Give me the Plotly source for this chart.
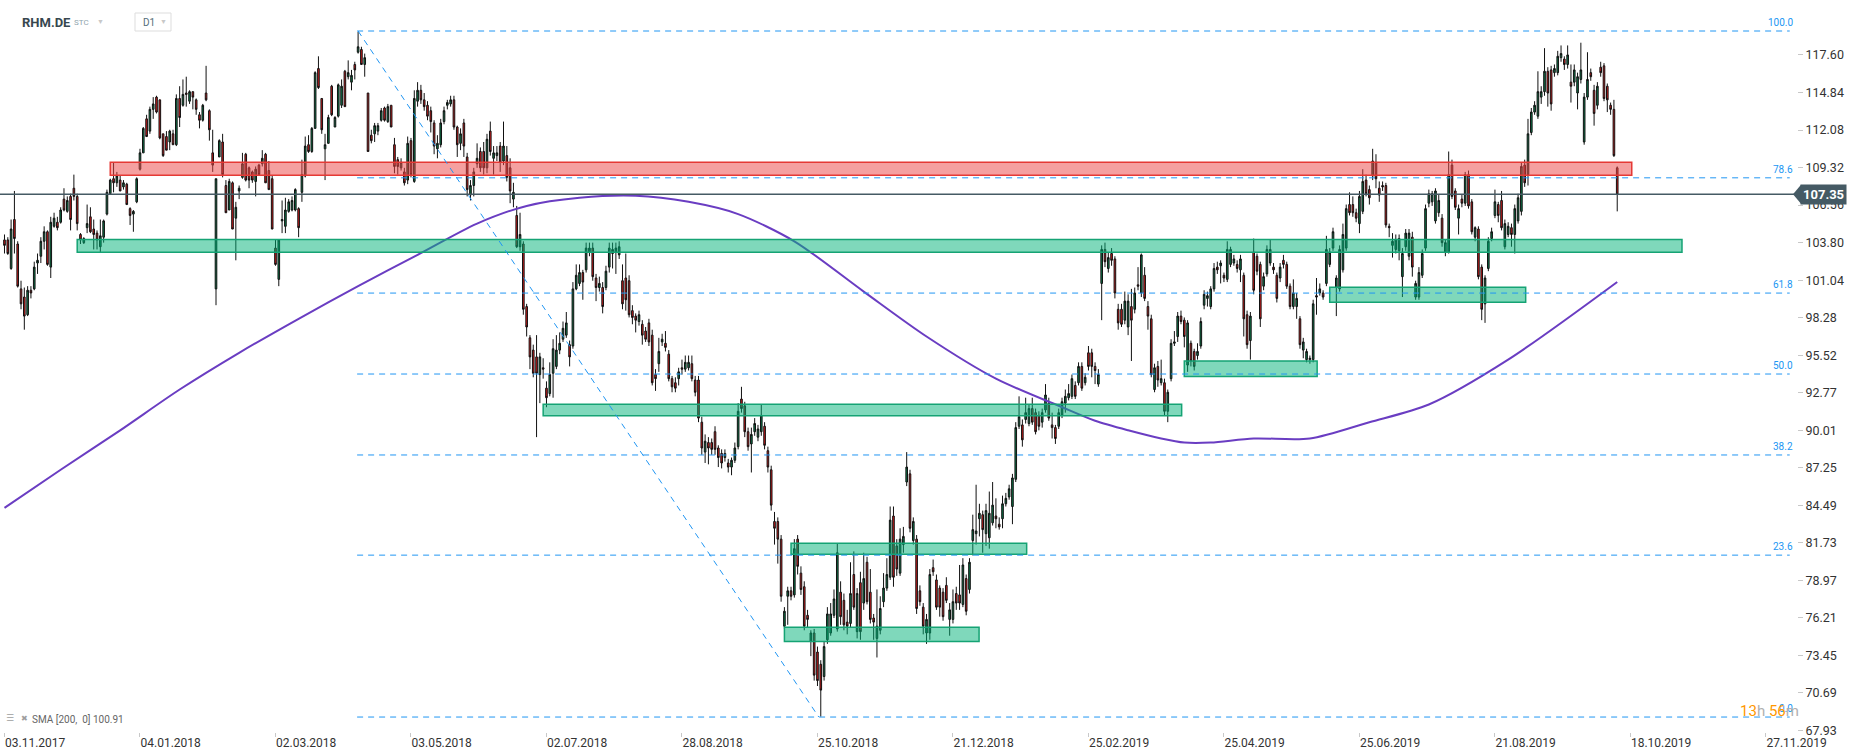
import plotly.graph_objects as go

# ---------------- data ----------------
open_ = [
    104.0, 104.0, 101.9, 105.5, 103.7, 100.4, 99.8, 98.5, 100.3, 100.4,
    102.3, 102.8, 103.9, 104.6, 102.0, 105.0, 105.3, 105.3, 107.0, 106.1,
    107.2, 107.8, 107.2, 104.4, 103.8, 104.9, 105.7, 104.8, 104.5, 103.5,
    104.2, 105.9, 107.4, 108.5, 108.2, 108.4, 107.9, 108.1, 106.3, 105.9,
    106.8, 109.2, 110.4, 112.9, 112.0, 113.6, 114.5, 114.3, 111.8, 111.6,
    111.2, 111.8, 111.0, 114.4, 113.9, 114.8, 114.2, 114.9, 114.3, 113.2,
    112.8, 114.8, 113.5, 110.4, 100.4, 110.1, 111.2, 108.0, 106.2, 108.2,
    105.6, 107.6, 108.6, 110.3, 109.3, 109.0, 108.3, 109.5, 109.6, 110.3,
    109.1, 108.5, 103.4, 101.1, 105.4, 105.0, 106.1, 106.2, 106.2, 106.3,
    107.5, 108.7, 111.0, 110.5, 112.2, 116.6, 114.4, 110.7, 111.1, 115.3,
    112.3, 113.1, 113.9, 116.4, 116.0, 115.6, 116.9, 117.8, 118.0, 116.9,
    114.8, 111.7, 111.8, 112.0, 112.8, 113.7, 112.7, 113.9, 111.0, 109.9,
    109.3, 109.0, 108.4, 111.3, 108.3, 114.2, 115.0, 114.3, 113.9, 113.5,
    112.6, 110.7, 111.0, 112.7, 113.9, 114.0, 114.3, 112.3, 111.1, 112.6,
    110.1, 107.3, 108.0, 109.6, 110.5, 110.5, 109.3, 112.0, 110.0, 110.2,
    110.9, 109.8, 110.2, 109.3, 107.0, 105.8, 103.5, 103.7, 99.1, 96.8,
    95.9, 95.4, 94.1, 94.6, 93.1, 92.7, 94.2, 94.7, 95.9, 96.7,
    97.0, 96.3, 96.2, 100.4, 100.8, 101.6, 101.8, 103.1, 103.4, 101.2,
    100.5, 100.5, 100.5, 102.0, 103.0, 103.1, 102.9, 101.0, 101.2, 101.0,
    98.8, 98.4, 98.0, 97.8, 97.3, 97.9, 97.0, 94.1, 94.9, 96.5,
    96.4, 95.6, 93.8, 93.5, 93.8, 94.6, 94.5, 94.6, 94.9, 93.7,
    93.7, 90.6, 88.4, 89.1, 89.1, 89.9, 88.7, 88.3, 88.0, 87.6,
    87.3, 87.8, 88.8, 92.3, 91.8, 89.9, 89.0, 89.9, 89.5, 89.9,
    90.3, 88.5, 87.1, 83.3, 83.3, 82.0, 75.6, 77.8, 78.2, 77.9,
    82.0, 79.5, 78.5, 76.4, 74.5, 75.1, 73.7, 72.8, 71.9, 74.6,
    75.1, 76.4, 75.4, 78.1, 77.5, 75.9, 75.8, 79.4, 75.2, 78.8,
    77.3, 80.3, 78.1, 76.2, 74.7, 75.3, 77.4, 78.4, 79.2, 83.7,
    81.5, 79.5, 81.6, 86.2, 86.8, 81.9, 82.0, 78.2, 77.0, 75.1,
    75.1, 79.9, 79.0, 78.4, 78.1, 78.6, 76.1, 76.1, 78.0, 77.9,
    77.2, 79.1, 78.3, 81.9, 82.4, 83.5, 83.8, 82.4, 82.1, 83.2,
    83.7, 83.1, 83.5, 84.6, 85.1, 84.4, 86.4, 90.3, 90.4, 90.8,
    90.5, 91.6, 91.3, 91.1, 90.6, 91.5, 92.0, 90.4, 90.2, 90.3,
    91.1, 92.0, 92.4, 92.5, 93.3, 93.5, 94.7, 93.5, 95.7, 95.7,
    94.7, 93.4, 100.8, 103.3, 101.9, 103.0, 102.6, 98.9, 98.9, 98.1,
    97.6, 99.1, 98.9, 100.7, 100.1, 101.4, 99.1, 98.2, 93.0, 94.7,
    93.5, 93.5, 91.4, 93.8, 96.4, 96.9, 98.4, 98.1, 94.8, 96.4,
    95.8, 95.5, 96.2, 99.2, 99.7, 99.1, 100.4, 102.0, 102.1, 101.4,
    101.1, 102.2, 102.3, 102.2, 101.8, 101.4, 98.5, 96.6, 103.1, 102.8,
    102.2, 100.6, 101.5, 102.3, 102.0, 101.4, 101.2, 102.5, 102.2, 100.6,
    99.1, 99.1, 98.2, 95.9, 95.2, 95.2, 95.2, 99.9, 100.1, 100.1,
    100.8, 102.2, 103.4, 100.5, 100.4, 101.8, 103.4, 106.6, 106.6, 106.0,
    105.2, 106.1, 108.4, 107.7, 108.7, 109.7, 107.8, 108.0, 108.0, 105.0,
    103.6, 103.3, 103.2, 101.3, 103.5, 102.8, 104.2, 99.8, 99.8, 101.4,
    103.4, 106.7, 106.8, 105.4, 106.0, 105.6, 103.1, 103.1, 109.5, 107.6,
    105.6, 107.0, 106.7, 108.8, 106.8, 104.2, 104.8, 102.0, 99.3, 101.9,
    104.1, 105.8, 106.6, 106.9, 103.5, 104.4, 104.9, 104.4, 105.4, 106.1,
    109.5, 108.8, 111.9, 113.4, 113.1, 114.5, 114.9, 116.4, 116.5, 116.3,
    116.3, 117.4, 117.3, 116.9, 115.6, 115.6, 114.8, 115.8, 111.2, 114.5,
    116.3, 115.0, 113.9, 116.7, 116.8, 115.3, 113.9, 113.6, 109.3,
]
high = [
    104.4, 104.2, 105.5, 107.6, 103.9, 101.0, 100.5, 100.6, 100.6, 102.4,
    103.0, 104.2, 105.0, 104.7, 105.7, 106.0, 105.7, 106.4, 107.8, 107.2,
    107.4, 108.8, 107.4, 104.5, 104.2, 106.6, 106.4, 105.5, 104.7, 105.5,
    105.5, 107.7, 108.5, 109.7, 109.0, 108.7, 108.4, 108.2, 106.4, 106.2,
    108.6, 110.7, 112.3, 113.2, 113.8, 114.5, 114.6, 114.3, 111.8, 112.0,
    112.1, 112.1, 114.7, 115.3, 115.8, 116.0, 115.0, 114.9, 114.4, 113.4,
    114.0, 116.8, 113.6, 112.1, 108.5, 111.4, 111.8, 108.4, 108.5, 108.3,
    106.8, 108.0, 110.4, 110.4, 109.4, 109.1, 109.4, 109.6, 110.6, 110.4,
    109.8, 108.7, 104.0, 104.0, 106.9, 107.1, 107.0, 107.2, 107.8, 106.4,
    109.9, 111.6, 111.7, 112.3, 116.4, 117.5, 114.4, 111.8, 113.2, 115.4,
    113.1, 115.5, 115.8, 116.5, 117.2, 116.5, 117.1, 119.3, 118.2, 117.7,
    114.8, 112.1, 112.6, 112.6, 113.7, 113.8, 114.0, 113.9, 111.5, 110.1,
    110.0, 109.3, 111.6, 111.5, 115.0, 115.6, 115.4, 114.8, 114.2, 113.8,
    112.8, 111.7, 112.9, 113.8, 114.3, 114.6, 114.6, 112.4, 112.2, 112.9,
    110.4, 108.4, 109.3, 111.1, 110.8, 111.2, 111.8, 112.7, 110.9, 110.9,
    111.2, 112.7, 110.9, 110.0, 108.2, 106.5, 106.0, 103.9, 99.3, 97.0,
    96.3, 97.0, 95.7, 95.3, 93.6, 95.0, 96.7, 97.0, 97.2, 98.0,
    98.7, 96.6, 100.9, 102.2, 102.2, 101.8, 103.8, 103.8, 103.8, 101.5,
    101.3, 100.9, 102.1, 103.8, 103.8, 103.8, 103.9, 102.2, 103.0, 101.4,
    99.2, 98.6, 98.8, 98.1, 97.6, 98.2, 97.4, 94.5, 96.8, 97.1,
    97.3, 95.9, 94.0, 93.9, 94.6, 95.2, 95.5, 95.5, 95.5, 94.0,
    94.0, 91.0, 89.7, 89.5, 89.4, 90.3, 88.9, 88.6, 88.6, 87.9,
    88.0, 89.1, 92.0, 93.2, 92.1, 90.2, 90.2, 90.9, 90.4, 91.9,
    90.6, 88.8, 87.4, 84.0, 83.6, 82.3, 77.0, 78.5, 78.5, 82.0,
    82.3, 80.0, 78.9, 76.8, 75.3, 75.4, 74.1, 73.1, 74.5, 77.0,
    77.3, 78.3, 81.7, 78.9, 78.0, 76.8, 80.3, 81.1, 78.4, 79.6,
    81.0, 80.7, 79.8, 76.5, 78.3, 77.8, 79.5, 80.6, 84.4, 84.4,
    82.0, 82.8, 82.9, 88.4, 87.1, 83.6, 82.3, 78.6, 77.3, 76.5,
    79.8, 80.5, 79.4, 78.6, 78.4, 79.2, 77.3, 78.3, 78.5, 80.1,
    80.6, 79.4, 80.6, 83.8, 86.0, 84.6, 84.1, 84.6, 85.5, 86.2,
    85.0, 83.6, 85.2, 85.4, 86.0, 86.8, 90.6, 92.5, 90.8, 92.4,
    91.9, 92.4, 91.6, 91.4, 91.6, 93.4, 92.4, 91.3, 90.4, 91.6,
    92.4, 93.0, 93.4, 94.1, 93.6, 95.0, 95.0, 94.2, 96.2, 96.0,
    95.0, 94.5, 103.6, 103.8, 103.1, 103.4, 102.8, 99.3, 99.3, 100.2,
    100.0, 100.4, 100.5, 102.0, 103.0, 102.0, 99.5, 98.5, 94.9, 95.1,
    95.2, 93.8, 93.0, 96.7, 97.3, 98.7, 98.8, 98.3, 98.1, 96.6,
    96.0, 96.4, 98.3, 100.3, 100.2, 100.6, 102.3, 102.4, 102.5, 101.6,
    103.9, 103.5, 102.9, 102.5, 102.9, 101.6, 98.8, 98.7, 104.1, 103.0,
    102.4, 101.6, 103.6, 104.0, 102.3, 101.6, 102.3, 102.9, 102.4, 100.8,
    101.1, 100.1, 98.4, 96.8, 96.0, 95.5, 99.6, 101.2, 100.8, 100.3,
    104.3, 103.4, 104.9, 101.4, 103.6, 105.2, 106.6, 107.5, 107.2, 106.3,
    107.6, 109.2, 108.8, 108.0, 110.7, 110.3, 108.3, 108.3, 108.2, 105.2,
    104.5, 104.4, 104.4, 103.4, 104.8, 104.8, 104.6, 101.0, 102.0, 103.3,
    106.6, 107.7, 107.6, 107.8, 107.3, 105.9, 104.0, 110.5, 109.9, 107.8,
    106.6, 107.3, 109.0, 109.1, 107.0, 105.0, 105.0, 102.2, 101.4, 104.2,
    104.9, 107.7, 106.8, 107.6, 105.5, 105.3, 105.2, 106.6, 107.4, 109.7,
    109.9, 112.9, 113.7, 114.2, 116.4, 115.3, 118.1, 116.7, 116.8, 116.9,
    117.9, 118.3, 117.5, 118.3, 116.9, 116.9, 116.3, 118.5, 114.8, 117.8,
    116.6, 115.4, 115.6, 117.1, 117.0, 115.5, 114.1, 114.3, 109.4,
]
low = [
    103.0, 102.9, 101.8, 103.0, 100.5, 98.9, 97.4, 98.4, 99.7, 100.3,
    101.5, 102.3, 103.3, 102.1, 101.2, 104.9, 104.7, 105.2, 106.1, 106.0,
    104.7, 106.9, 104.7, 103.7, 103.7, 104.5, 104.5, 103.3, 103.3, 103.1,
    103.8, 105.8, 107.4, 107.5, 107.9, 107.6, 107.7, 106.6, 105.1, 104.6,
    106.7, 109.1, 110.4, 111.6, 111.8, 112.9, 113.3, 111.4, 110.1, 110.6,
    110.6, 111.0, 110.9, 112.3, 113.8, 113.8, 114.0, 113.6, 113.2, 112.2,
    112.7, 114.2, 111.3, 109.0, 99.2, 110.1, 108.6, 106.0, 106.2, 104.8,
    102.5, 107.0, 108.5, 108.3, 107.8, 108.2, 107.2, 108.7, 109.4, 108.2,
    107.7, 104.8, 102.1, 100.6, 104.5, 104.5, 106.0, 106.1, 106.1, 104.2,
    106.8, 108.6, 110.4, 110.4, 112.2, 115.1, 111.8, 108.4, 111.1, 113.1,
    112.3, 113.0, 113.7, 113.8, 115.8, 115.0, 115.8, 117.7, 116.9, 116.0,
    110.5, 111.1, 111.2, 111.7, 112.7, 112.7, 112.6, 112.3, 108.9, 108.8,
    109.1, 108.0, 108.1, 108.6, 108.2, 113.8, 114.0, 113.5, 112.8, 111.9,
    110.3, 110.0, 110.8, 112.5, 113.6, 113.8, 112.1, 110.1, 110.6, 110.1,
    107.2, 106.9, 107.2, 109.3, 109.0, 108.8, 108.9, 110.2, 108.8, 109.8,
    109.0, 109.5, 108.3, 106.7, 106.4, 103.4, 103.2, 98.5, 96.9, 94.5,
    93.9, 89.5, 92.0, 93.8, 91.7, 92.5, 92.4, 94.5, 95.6, 96.5,
    96.8, 94.7, 96.0, 100.3, 100.6, 99.6, 101.6, 102.8, 101.0, 99.5,
    100.2, 98.6, 100.3, 101.6, 101.9, 101.5, 102.6, 98.9, 98.8, 98.3,
    97.8, 97.2, 97.7, 96.3, 96.5, 96.2, 93.3, 92.9, 94.3, 96.2,
    95.8, 93.6, 92.8, 92.8, 93.3, 94.1, 94.3, 94.4, 93.6, 92.5,
    90.6, 88.2, 87.6, 87.5, 88.2, 88.2, 87.3, 87.2, 87.7, 86.9,
    86.7, 87.6, 88.6, 91.3, 89.5, 88.5, 86.9, 89.6, 89.2, 89.6,
    88.6, 86.9, 84.1, 81.6, 80.2, 77.4, 75.4, 75.7, 77.5, 77.7,
    79.4, 77.9, 75.3, 75.5, 73.4, 71.6, 71.2, 68.95, 71.6, 74.3,
    74.9, 76.2, 75.2, 75.7, 75.3, 75.0, 75.5, 76.8, 74.7, 74.6,
    76.8, 77.2, 75.8, 74.6, 73.3, 75.0, 77.0, 78.2, 79.0, 78.5,
    79.3, 79.3, 81.0, 85.9, 82.5, 81.6, 76.5, 77.1, 75.0, 74.3,
    74.6, 79.3, 76.8, 76.3, 76.0, 77.3, 74.9, 75.8, 76.8, 76.8,
    77.0, 76.4, 78.0, 80.8, 81.6, 82.2, 81.0, 81.5, 81.3, 83.0,
    82.8, 82.7, 82.8, 84.4, 84.9, 83.1, 86.2, 90.1, 88.8, 90.5,
    90.3, 90.4, 89.7, 90.0, 90.2, 91.3, 90.7, 89.4, 89.0, 90.1,
    90.9, 91.3, 92.2, 92.3, 92.3, 93.3, 92.9, 93.3, 94.4, 93.9,
    93.4, 93.2, 98.1, 102.0, 101.6, 102.1, 99.7, 97.4, 97.6, 97.8,
    97.0, 95.1, 98.6, 100.3, 99.8, 99.5, 97.4, 93.9, 92.8, 93.2,
    93.3, 91.1, 90.6, 93.6, 96.2, 96.5, 97.8, 96.1, 94.3, 94.7,
    94.4, 95.2, 96.0, 98.9, 99.1, 98.9, 100.2, 101.5, 100.8, 100.9,
    100.9, 102.0, 102.1, 101.6, 100.9, 96.9, 96.0, 95.2, 100.0, 101.4,
    97.6, 100.3, 101.3, 102.1, 101.5, 99.4, 100.9, 101.9, 100.4, 98.9,
    98.9, 98.2, 96.0, 95.3, 95.0, 94.9, 95.0, 98.5, 99.9, 99.6,
    100.6, 102.0, 103.2, 98.4, 100.2, 101.6, 103.2, 105.8, 105.7, 105.3,
    104.5, 105.9, 107.2, 106.6, 108.4, 107.8, 106.8, 107.6, 104.9, 104.2,
    102.7, 103.0, 102.5, 99.8, 103.2, 102.5, 101.3, 99.6, 99.6, 101.2,
    103.2, 106.4, 106.5, 105.2, 105.7, 103.5, 102.8, 103.0, 107.0, 106.2,
    104.4, 106.4, 106.5, 106.3, 104.4, 103.9, 101.1, 98.1, 97.9, 101.7,
    103.9, 105.6, 105.3, 104.7, 103.3, 104.2, 103.5, 103.0, 105.2, 105.8,
    107.9, 108.0, 111.7, 113.2, 112.9, 114.0, 114.6, 113.8, 113.5, 116.0,
    116.1, 117.1, 116.5, 116.6, 114.1, 115.3, 113.6, 115.5, 111.0, 114.3,
    115.7, 112.4, 113.6, 116.0, 114.2, 113.4, 113.2, 110.1, 106.1,
]
close = [
    103.6, 103.0, 104.8, 104.1, 100.6, 99.3, 98.4, 100.3, 100.1, 102.0,
    102.5, 103.9, 104.6, 102.2, 105.3, 105.6, 104.9, 106.2, 106.2, 106.9,
    105.5, 107.2, 105.2, 104.0, 104.1, 105.2, 104.6, 104.4, 104.0, 104.3,
    105.4, 107.5, 108.4, 108.2, 108.7, 107.6, 108.2, 106.6, 105.8, 106.1,
    108.5, 110.4, 112.2, 111.6, 113.6, 114.0, 113.4, 111.5, 110.2, 110.6,
    112.0, 111.0, 114.4, 113.0, 114.7, 114.7, 114.9, 114.5, 113.6, 112.8,
    113.9, 114.3, 112.1, 109.5, 108.5, 111.3, 108.8, 106.0, 108.3, 104.8,
    106.4, 107.8, 109.6, 108.4, 108.4, 108.4, 109.2, 108.8, 110.0, 108.2,
    107.7, 104.8, 102.2, 104.0, 105.5, 106.2, 106.8, 106.9, 107.7, 104.9,
    108.8, 110.9, 110.5, 112.2, 116.3, 115.2, 112.1, 111.0, 113.0, 113.2,
    113.0, 115.4, 115.3, 113.8, 116.3, 116.1, 116.5, 118.2, 116.9, 117.4,
    110.5, 111.3, 112.4, 112.4, 113.5, 112.8, 113.8, 112.3, 109.4, 109.4,
    109.7, 108.2, 111.1, 108.8, 114.4, 115.0, 114.3, 113.8, 113.1, 112.7,
    110.9, 111.1, 112.6, 113.5, 114.1, 114.3, 112.3, 111.0, 111.8, 110.9,
    107.7, 108.0, 109.0, 110.0, 109.3, 109.3, 111.4, 110.5, 110.4, 110.4,
    109.7, 110.9, 108.6, 107.6, 107.5, 103.5, 104.4, 98.9, 97.6, 95.4,
    94.2, 94.2, 95.4, 94.5, 92.4, 94.1, 96.0, 95.9, 96.4, 97.5,
    97.9, 95.4, 100.4, 101.4, 101.6, 100.9, 103.4, 103.4, 101.3, 100.5,
    100.8, 99.1, 101.7, 103.4, 103.3, 103.4, 103.5, 99.3, 99.6, 98.5,
    98.3, 98.1, 98.5, 97.0, 96.7, 96.5, 93.5, 93.8, 95.8, 96.7,
    96.1, 93.8, 93.2, 93.1, 94.3, 94.5, 95.0, 95.0, 93.8, 92.8,
    90.9, 88.7, 89.2, 88.7, 88.6, 88.6, 88.0, 87.6, 88.3, 87.3,
    87.8, 88.7, 91.4, 91.6, 89.9, 88.8, 89.7, 90.5, 90.1, 91.1,
    88.9, 87.3, 84.5, 82.8, 82.0, 77.8, 76.7, 78.2, 77.8, 81.3,
    80.0, 78.3, 75.6, 76.1, 75.1, 72.0, 71.6, 70.9, 74.1, 76.5,
    76.5, 77.6, 81.0, 76.3, 75.7, 75.6, 78.0, 77.0, 78.0, 75.2,
    79.1, 77.4, 76.1, 75.9, 75.6, 76.9, 78.4, 79.4, 83.4, 79.2,
    79.8, 82.0, 82.2, 87.3, 82.8, 83.3, 76.9, 77.4, 75.6, 76.1,
    79.4, 79.6, 77.0, 77.0, 76.3, 77.5, 76.8, 77.4, 77.3, 77.3,
    80.1, 76.7, 80.3, 82.7, 82.6, 83.9, 82.7, 84.1, 83.9, 84.5,
    83.5, 82.9, 84.6, 85.0, 85.7, 86.5, 90.2, 91.0, 89.3, 91.3,
    91.6, 90.6, 89.9, 90.3, 91.3, 92.6, 90.9, 90.2, 89.4, 91.3,
    92.1, 92.5, 92.7, 93.8, 92.5, 94.7, 93.1, 93.9, 94.7, 94.7,
    94.4, 94.1, 103.3, 102.4, 102.7, 102.5, 100.1, 97.9, 97.8, 99.5,
    99.5, 98.1, 100.1, 100.6, 102.9, 99.7, 98.4, 94.1, 94.6, 93.7,
    93.8, 91.4, 92.8, 96.4, 96.5, 98.4, 98.0, 96.9, 97.9, 95.1,
    94.7, 95.8, 98.0, 100.0, 99.9, 100.4, 101.9, 101.8, 102.3, 101.2,
    103.3, 103.3, 102.6, 101.9, 102.6, 98.2, 96.3, 98.4, 100.3, 101.7,
    98.2, 101.3, 103.3, 103.3, 101.8, 99.7, 102.0, 102.2, 100.6, 99.1,
    100.1, 99.7, 96.3, 96.5, 95.8, 95.3, 99.3, 99.8, 100.4, 99.8,
    103.3, 103.1, 104.6, 101.2, 103.3, 104.4, 106.3, 106.0, 106.0, 105.6,
    107.2, 108.3, 107.4, 107.1, 109.8, 108.5, 107.3, 107.9, 105.1, 104.9,
    103.9, 104.0, 104.1, 103.0, 104.5, 104.5, 102.0, 100.8, 101.6, 103.0,
    106.3, 107.4, 107.4, 107.6, 106.9, 103.8, 103.8, 108.8, 107.2, 106.4,
    106.3, 106.7, 108.8, 106.5, 104.6, 104.9, 101.3, 98.9, 101.2, 103.9,
    104.6, 106.8, 105.8, 104.9, 105.2, 105.0, 104.4, 106.3, 107.1, 109.4,
    108.2, 111.8, 113.4, 113.9, 114.9, 114.9, 116.4, 114.8, 114.0, 116.6,
    117.5, 117.7, 116.9, 117.6, 115.3, 116.5, 116.0, 116.5, 114.5, 115.8,
    116.0, 113.3, 115.3, 116.3, 114.4, 114.3, 113.6, 110.2, 107.35,
]

# SMA(200) (bar index, value)
sma_idx = [0, 17, 35, 53, 71, 89, 107, 125, 143, 158, 174, 191, 207, 222,
           239, 260, 279, 300, 320, 330, 340, 350, 357, 365, 378, 395, 413,
           431, 455, 488]
sma_val = [84.3, 87.1, 90.0, 93.0, 95.7, 98.2, 100.6, 102.9, 105.2, 106.5,
           107.1, 107.25, 106.8, 105.9, 103.9, 100.2, 96.9, 93.8, 91.7, 90.7,
           90.0, 89.4, 89.1, 89.1, 89.4, 89.4, 90.6, 91.9, 95.2, 100.91]

date_tick_idx = [0, 41, 82, 123, 164, 205, 246, 287, 328, 369, 410, 451, 492, 533]
date_tick_text = ["03.11.2017", "04.01.2018", "02.03.2018", "03.05.2018",
                  "02.07.2018", "28.08.2018", "25.10.2018", "21.12.2018",
                  "25.02.2019", "25.04.2019", "25.06.2019", "21.08.2019",
                  "18.10.2019", "27.11.2019"]
price_ticks = [117.60, 114.84, 112.08, 109.32, 106.56, 103.80, 101.04, 98.28,
               95.52, 92.77, 90.01, 87.25, 84.49, 81.73, 78.97, 76.21, 73.45,
               70.69, 67.93]

fib_ratios = [100.0, 78.6, 61.8, 50.0, 38.2, 23.6, 0.0]
fib_high, fib_low = 119.36, 68.92
fib_high_idx, fib_low_idx = 107, 247

# horizontal zones: (from bar, to bar, low, high)
zone_x0 = [32.0, 22.0, 163.0, 238.0, 236.0, 357.0, 401.0]
zone_x1 = [492.4, 507.6, 356.2, 309.3, 294.9, 397.2, 460.3]
zone_lo = [108.75, 103.09, 91.08, 80.89, 74.47, 93.95, 99.42]
zone_hi = [109.71, 104.04, 91.92, 81.70, 75.52, 95.10, 100.52]
zone_kind = ["res", "sup", "sup", "sup", "sup", "sup", "sup"]

last_price = 107.35
sma_last = 100.91

# ---------------- layout constants ----------------
W, H = 1866, 756
ML, MR, MT, MB = 0, 69, 0, 24
PW, PH = W - ML - MR, H - MT - MB
XR = [-1.36, 542.4]
YR = [67.82, 121.64]
FONT = "Roboto, 'Open Sans', Arial, sans-serif"
BLUE = "#2196f3"


def px(x):
    return x / PW


def py(y):
    return 1 - y / PH


n = len(close)
xs = list(range(n))
high = [max(h, o, c) for h, o, c in zip(high, open_, close)]
low = [min(l, o, c) for l, o, c in zip(low, open_, close)]

fig = go.Figure()
fig.add_trace(go.Candlestick(
    x=xs, open=open_, high=high, low=low, close=close,
    increasing=dict(line=dict(color="#111111", width=1), fillcolor="#0b7a4a"),
    decreasing=dict(line=dict(color="#111111", width=1), fillcolor="#d81b1b"),
    whiskerwidth=0, showlegend=False, hoverinfo="skip",
))
fig.add_trace(go.Scatter(
    x=sma_idx, y=sma_val, mode="lines",
    line=dict(color="#6a3dc2", width=2, shape="spline", smoothing=0.8),
    showlegend=False, hoverinfo="skip",
))

shapes = []
for x0, x1, lo, hi, k in zip(zone_x0, zone_x1, zone_lo, zone_hi, zone_kind):
    if k == "res":
        fc, lc = "rgba(236,72,72,0.52)", "#e53935"
    else:
        fc, lc = "rgba(0,178,120,0.50)", "#15a374"
    shapes.append(dict(type="rect", xref="x", yref="y", x0=x0, x1=x1, y0=lo, y1=hi,
                       fillcolor=fc, line=dict(color=lc, width=1.5), layer="above"))

fib_end = 540.2
annotations = []
for r in fib_ratios:
    lvl = fib_low + r / 100.0 * (fib_high - fib_low)
    shapes.append(dict(type="line", xref="x", yref="y", x0=fib_high_idx - 0.3, x1=fib_end,
                       y0=lvl, y1=lvl, line=dict(color=BLUE, width=1, dash="6px,5px")))
    annotations.append(dict(xref="x", yref="y", x=541.7, y=lvl, xanchor="right",
                            yanchor="bottom", yshift=1, showarrow=False,
                            text=f"{r:.1f}", font=dict(family=FONT, size=10, color=BLUE)))

shapes.append(dict(type="line", xref="x", yref="y", x0=fib_high_idx, y0=fib_high,
                   x1=fib_low_idx - 0.6, y1=fib_low,
                   line=dict(color=BLUE, width=1, dash="6px,5px")))

shapes.append(dict(type="line", xref="paper", yref="y", x0=0, x1=1, y0=last_price,
                   y1=last_price, line=dict(color="#455a64", width=1.5)))

# price tag pointer
ply = (last_price - YR[0]) / (YR[1] - YR[0])
hh = 9.5 / PH
shapes.append(dict(type="path", xref="paper", yref="paper",
                   path=f"M {px(1793)},{ply} L {px(1801)},{ply + hh} L {px(1801)},{ply - hh} Z",
                   fillcolor="#455a64", line=dict(width=0)))
annotations.append(dict(xref="paper", yref="y", x=px(1800), y=last_price, xanchor="left",
                        yanchor="middle", showarrow=False, text="<b>107.35</b>",
                        bgcolor="#455a64", borderpad=2,
                        font=dict(family=FONT, size=13, color="white")))

# header
annotations += [
    dict(xref="paper", yref="paper", x=px(20), y=py(23), xanchor="left", yanchor="middle",
         showarrow=False, text="<b>RHM.DE</b>", font=dict(family=FONT, size=13, color="#37474f")),
    dict(xref="paper", yref="paper", x=px(72), y=py(23), xanchor="left", yanchor="middle",
         showarrow=False, text="STC", font=dict(family=FONT, size=8, color="#90a4ae")),
    dict(xref="paper", yref="paper", x=px(95), y=py(22), xanchor="left", yanchor="middle",
         showarrow=False, text="▼", font=dict(family=FONT, size=7, color="#c8c8c8")),
    dict(xref="paper", yref="paper", x=px(141), y=py(22.5), xanchor="left", yanchor="middle",
         showarrow=False, text="D1", font=dict(family=FONT, size=10, color="#546e7a")),
    dict(xref="paper", yref="paper", x=px(158), y=py(22), xanchor="left", yanchor="middle",
         showarrow=False, text="▼", font=dict(family=FONT, size=7, color="#c8c8c8")),
]
shapes.append(dict(type="rect", xref="paper", yref="paper", x0=px(135), x1=px(171),
                   y0=py(31), y1=py(13), line=dict(color="#dddddd", width=1)))

# indicator legend
annotations += [
    dict(xref="paper", yref="paper", x=px(4), y=py(718), xanchor="left", yanchor="middle",
         showarrow=False, text="☰", font=dict(family="DejaVu Sans", size=9, color="#9e9e9e")),
    dict(xref="paper", yref="paper", x=px(19), y=py(718), xanchor="left", yanchor="middle",
         showarrow=False, text="✖", font=dict(family="DejaVu Sans", size=8, color="#9e9e9e")),
    dict(xref="paper", yref="paper", x=px(30), y=py(719), xanchor="left", yanchor="middle",
         showarrow=False, text=f"SMA [200,  0] {sma_last:.2f}",
         font=dict(family=FONT, size=10, color="#666666")),
]

# candle countdown
annotations.append(dict(
    xref="paper", yref="paper", x=px(1738), y=py(711), xanchor="left", yanchor="middle",
    showarrow=False,
    text="<span style='color:#ff9800'>13</span><span style='color:#b0b0b0'>h</span> "
         "<span style='color:#ff9800'>56</span><span style='color:#b0b0b0'>m</span>",
    font=dict(family=FONT, size=15)))

fig.update_layout(
    width=W, height=H,
    margin=dict(l=ML, r=MR, t=MT, b=MB),
    paper_bgcolor="white", plot_bgcolor="white",
    showlegend=False, hovermode=False,
    shapes=shapes, annotations=annotations,
    font=dict(family=FONT, size=12, color="#333333"),
    xaxis=dict(range=XR, showgrid=False, zeroline=False, showline=False,
               tickvals=date_tick_idx, ticktext=date_tick_text,
               ticks="outside", ticklen=4, tickcolor="#c8c8c8",
               ticklabelposition="outside right",
               tickfont=dict(family=FONT, size=12, color="#333333"),
               rangeslider=dict(visible=False), fixedrange=True),
    yaxis=dict(range=YR, side="right", showgrid=False, zeroline=False, showline=False,
               tickvals=price_ticks, ticktext=[f"{v:.2f}" for v in price_ticks],
               ticks="outside", ticklen=5, tickcolor="#c8c8c8",
               tickfont=dict(family=FONT, size=12.5, color="#333333"), fixedrange=True),
)

fig.write_html("out.html", config={"displayModeBar": False},
               post_script="document.body.style.margin='0';document.body.style.overflow='hidden';")
